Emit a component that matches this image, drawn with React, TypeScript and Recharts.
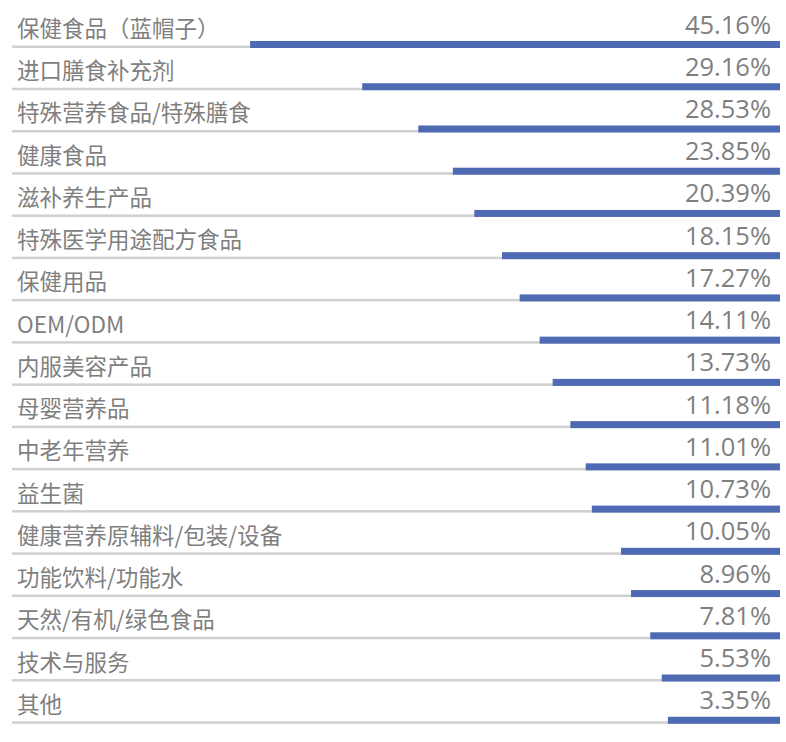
import React from 'react';
import { BarChart, Bar, XAxis, YAxis } from 'recharts';

const categories = [
  '保健食品（蓝帽子）',
  '进口膳食补充剂',
  '特殊营养食品/特殊膳食',
  '健康食品',
  '滋补养生产品',
  '特殊医学用途配方食品',
  '保健用品',
  'OEM/ODM',
  '内服美容产品',
  '母婴营养品',
  '中老年营养',
  '益生菌',
  '健康营养原辅料/包装/设备',
  '功能饮料/功能水',
  '天然/有机/绿色食品',
  '技术与服务',
  '其他',
];

// shares shown as text at the right of each row
const percents = [45.16, 29.16, 28.53, 23.85, 20.39, 18.15, 17.27, 14.11, 13.73, 11.18, 11.01, 10.73, 10.05, 8.96, 7.81, 5.53, 3.35];

// bar lengths as drawn in the picture (share of full row width, 0-100),
// they are not proportional to the printed percentages
const barLengths = [69.0, 54.4, 47.1, 42.6, 39.8, 36.2, 33.9, 31.3, 29.6, 27.3, 25.3, 24.5, 20.7, 19.4, 16.9, 15.4, 14.6];

const data = categories.map((name, i) => ({ name, pct: percents[i], len: barLengths[i] }));

const BLUE = '#4e6ab2';
const LINE = '#d0d0d0';
const TEXT = '#7f7f7f';

const GrayLine = (props: any) => {
  const { x, y, width, height } = props;
  return <rect x={x} y={y + height - 2.5} width={width} height={2.5} fill={LINE} />;
};

const RowShape = (props: any) => {
  const { x, y, width, height, background, payload } = props;
  const left = Math.min(x, x + width);
  const w = Math.abs(width);
  const bottom = y + height;
  const bg = background || { x: 12, width: 768 };
  const right = bg.x + bg.width;
  return (
    <g>
      <rect x={left} y={bottom - 7} width={w} height={7} fill={BLUE} />
      <text
        x={bg.x + 5}
        y={bottom - 11}
        fontSize={22.5}
        fontFamily='"Noto Sans CJK SC", "Noto Sans", sans-serif'
        fill={TEXT}
      >
        {payload.name}
      </text>
      <text
        x={right - 9}
        y={bottom - 14.5}
        textAnchor="end"
        fontSize={25.5}
        fontFamily='"Open Sans", sans-serif'
        fill={TEXT}
      >
        {payload.pct.toFixed(2) + '%'}
      </text>
    </g>
  );
};

export default function App() {
  return (
    <div style={{ position: 'absolute', left: 0, top: 0, background: '#fff' }}>
      <BarChart
        width={786}
        height={742}
        data={data}
        layout="vertical"
        barCategoryGap={0}
        barGap={0}
        margin={{ top: 6, right: 6, bottom: 18, left: 12 }}
      >
        <XAxis type="number" domain={[0, 100]} reversed hide />
        <YAxis type="category" dataKey="name" hide />
        <Bar
          dataKey="len"
          isAnimationActive={false}
          background={GrayLine}
          shape={RowShape}
        />
      </BarChart>
    </div>
  );
}
